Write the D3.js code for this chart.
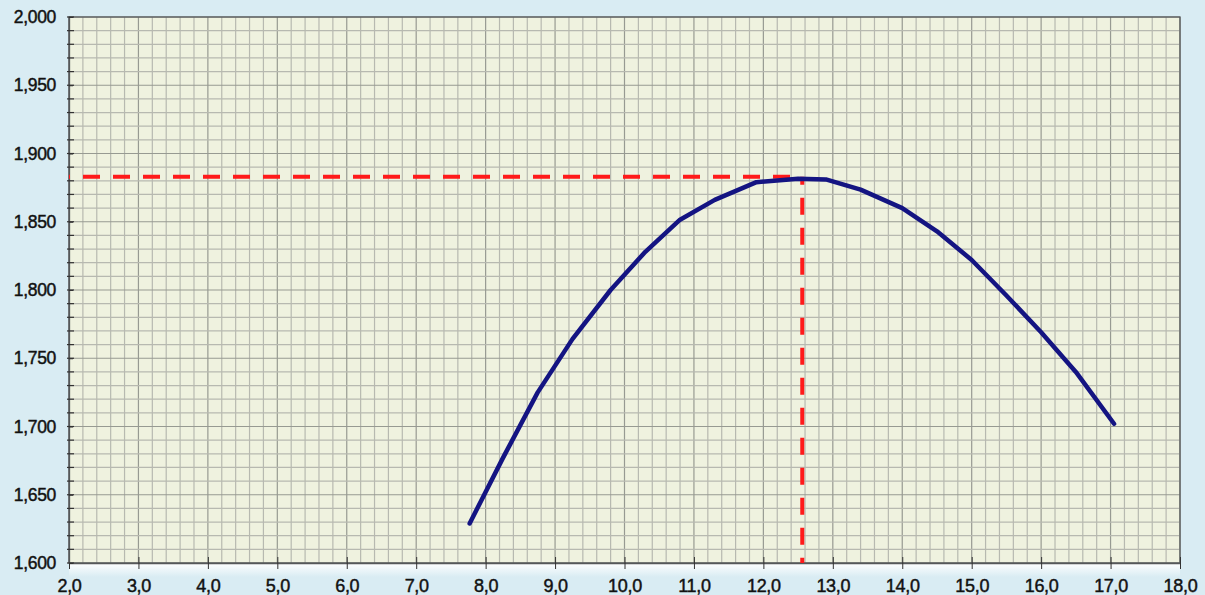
<!DOCTYPE html>
<html>
<head>
<meta charset="utf-8">
<script src="https://cdn.jsdelivr.net/npm/d3@7"></script>
<style>
  body { margin: 0; background: #d9ecf3; }
  svg { display: block; }
</style>
</head>
<body>
<div id="chart"></div>
<script>
// data
var xVals = [7.77, 8.25, 8.75, 9.25, 9.8, 10.3, 10.8, 11.3, 11.9, 12.5, 12.9, 13.4, 14.0, 14.5, 15.0, 15.5, 16.0, 16.5, 17.05];
var yVals = [1629, 1677, 1725, 1764, 1800, 1828, 1851.5, 1866, 1879, 1881.5, 1881, 1873.5, 1860, 1843, 1822, 1796, 1769, 1740, 1702];
var peakX = 12.56;
var peakY = 1883;
var xTicks = [2, 3, 4, 5, 6, 7, 8, 9, 10, 11, 12, 13, 14, 15, 16, 17, 18];
var yTicks = [1600, 1650, 1700, 1750, 1800, 1850, 1900, 1950, 2000];

var W = 1205, H = 595;
var margin = {top: 17, left: 69, right: 25, bottom: 32};
var width = W - margin.left - margin.right;
var height = H - margin.top - margin.bottom;

var svg = d3.select("#chart").append("svg")
    .attr("width", W)
    .attr("height", H);

var defs = svg.append("defs");
var grad = defs.append("linearGradient").attr("id", "strip")
    .attr("x1", 0).attr("y1", 0).attr("x2", 0).attr("y2", 1);
grad.append("stop").attr("offset", "0%").attr("stop-color", "#ffffff");
grad.append("stop").attr("offset", "100%").attr("stop-color", "#d9ecf3");

var g = svg.append("g")
    .attr("transform", "translate(" + margin.left + "," + margin.top + ")");

var x = d3.scaleLinear().domain([2, 18]).range([0, width]);
var y = d3.scaleLinear().domain([1600, 2000]).range([height, 0]);

// white strip under the plot
g.append("rect")
    .attr("x", 0).attr("y", height)
    .attr("width", width).attr("height", 14)
    .attr("fill", "url(#strip)");

g.append("rect")
    .attr("width", width).attr("height", height)
    .attr("fill", "#eff2df");

// minor grid
var xMinor = d3.range(2, 18.001, 0.2);
var yMinor = d3.range(1600, 2000.001, 10);

g.append("g").selectAll("line")
    .data(xMinor)
    .enter().append("line")
    .attr("x1", function(d) { return x(d); })
    .attr("x2", function(d) { return x(d); })
    .attr("y1", 0).attr("y2", height)
    .attr("stroke", function(d, i) { return i % 5 == 0 ? "#979a92" : "#b7b9b0"; })
    .attr("stroke-width", 1.2);

g.append("g").selectAll("line")
    .data(yMinor)
    .enter().append("line")
    .attr("y1", function(d) { return y(d); })
    .attr("y2", function(d) { return y(d); })
    .attr("x1", 0).attr("x2", width)
    .attr("stroke", function(d, i) { return i % 5 == 0 ? "#979a92" : "#b7b9b0"; })
    .attr("stroke-width", 1.2);

// frame
g.append("rect")
    .attr("width", width).attr("height", height)
    .attr("fill", "none")
    .attr("stroke", "#55585a")
    .attr("stroke-width", 1.3);

// axes
var xAxis = d3.axisBottom(x)
    .tickValues(xTicks)
    .tickSizeInner(6)
    .tickSizeOuter(0)
    .tickPadding(10)
    .tickFormat(function(d) { return d3.format(".1f")(d).replace(".", ","); });

var yAxis = d3.axisLeft(y)
    .tickValues(yTicks)
    .tickSizeInner(6)
    .tickSizeOuter(0)
    .tickPadding(7)
    .tickFormat(d3.format(",d"));

var gx = g.append("g")
    .attr("transform", "translate(0," + height + ")")
    .call(xAxis);
gx.selectAll(".tick line").attr("y1", -6).attr("stroke", "#333");

var gy = g.append("g").call(yAxis);
gy.selectAll(".tick line").attr("x2", 4).attr("stroke", "#333");

// minor ticks on y axis
g.append("g").selectAll("line")
    .data(yMinor)
    .enter().append("line")
    .attr("y1", function(d) { return y(d); })
    .attr("y2", function(d) { return y(d); })
    .attr("x1", -2).attr("x2", 5)
    .attr("stroke", "#333")
    .attr("stroke-width", 1.2);

svg.selectAll(".domain").attr("stroke", "#55585a").attr("stroke-width", 1.3);
svg.selectAll(".tick text")
    .style("font-family", "'Liberation Sans', Arial, sans-serif")
    .style("font-size", "17.5px")
    .style("letter-spacing", "-0.3px")
    .attr("fill", "#111")
    .attr("stroke", "#111")
    .attr("stroke-width", 0.45);
gx.selectAll(".tick text").style("font-size", "18px");

// reference dashed lines
g.append("line")
    .attr("x1", x(2)).attr("x2", x(peakX))
    .attr("y1", y(peakY)).attr("y2", y(peakY))
    .attr("stroke", "#ff1a1a")
    .attr("stroke-width", 4)
    .attr("stroke-dasharray", "17,13")
    .attr("stroke-dashoffset", 16);

g.append("line")
    .attr("x1", x(peakX)).attr("x2", x(peakX))
    .attr("y1", y(peakY)).attr("y2", y(1600))
    .attr("stroke", "#ff1a1a")
    .attr("stroke-width", 4)
    .attr("stroke-dasharray", "17,13")
    .attr("stroke-dashoffset", 9);

// curve
var line = d3.line()
    .x(function(d, i) { return x(xVals[i]); })
    .y(function(d) { return y(d); });

g.append("path")
    .datum(yVals)
    .attr("d", line)
    .attr("fill", "none")
    .attr("stroke", "#141482")
    .attr("stroke-width", 4.5)
    .attr("stroke-linejoin", "round")
    .attr("stroke-linecap", "round");
</script>
</body>
</html>
